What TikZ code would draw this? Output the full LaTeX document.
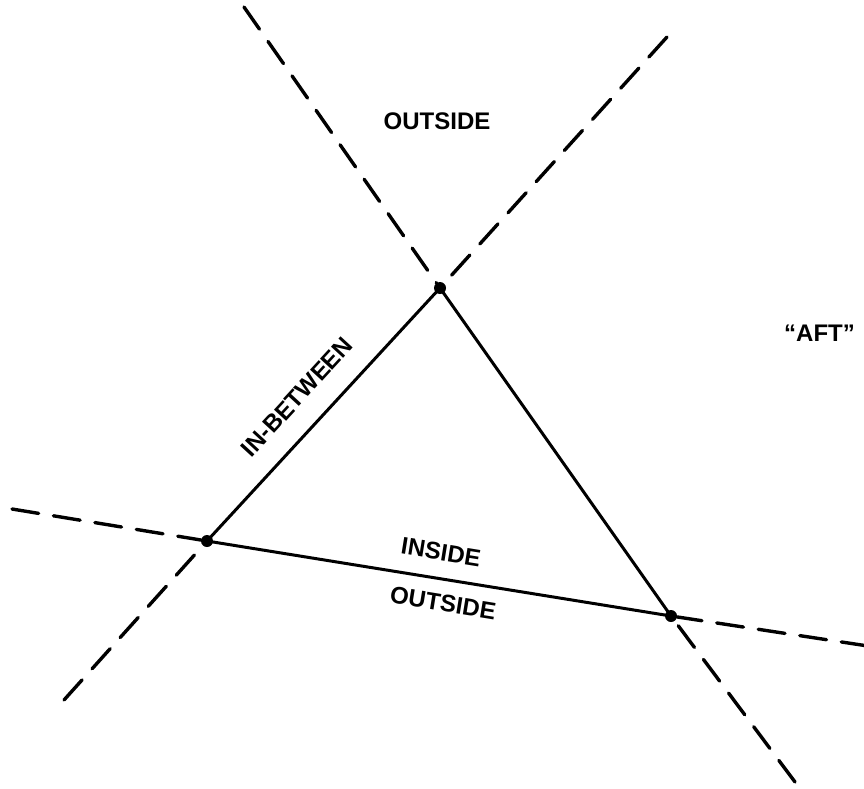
\documentclass[tikz,border=0pt]{standalone}
\usepackage{fontspec}
\setmainfont{Liberation Sans}
\begin{document}
\begin{tikzpicture}[x=1pt,y=-1pt,
  edge/.style={line width=3pt},
  dashedge/.style={line width=3.4pt,line cap=round,dash pattern=on 27pt off 15pt},
  vert/.style={circle,fill=black,inner sep=0pt,minimum size=12pt},
  lbl/.style={font=\fontsize{24}{28}\selectfont\bfseries,inner sep=0pt}]
\useasboundingbox (0,0) rectangle (864,788);
% vertices
\node[vert] (T) at (440,288) {};
\node[vert] (L) at (207,541) {};
\node[vert] (R) at (671,616) {};
% free ends
\coordinate (e1a) at (64,700);
\coordinate (e1b) at (667,37);
\coordinate (e2a) at (244,7);
\coordinate (e2b) at (795,782);
\coordinate (e3a) at (12,509);
\coordinate (e3b) at (868,646);
% solid triangle
\draw[edge] (L.center) -- (T.center) -- (R.center) -- (L.center);
% dashed extensions
\draw[dashedge] (e1a) -- (L);
\draw[dashedge] (e1b) -- (T);
\draw[dashedge] (e2a) -- (T);
\draw[dashedge] (e2b) -- (R);
\draw[dashedge] (e3a) -- (L);
\draw[dashedge] (e3b) -- (R);
% labels
\node[lbl] (out1) at (437,121) {OUTSIDE};
\node[lbl,anchor=west] (aft) at (784,333) {``AFT''};
\node[lbl,rotate=47.4] (inb) at (297,397) {IN-BETWEEN};
\node[lbl,rotate=-9.2] (ins) at (441,552) {INSIDE};
\node[lbl,rotate=-9.2] (out2) at (443,603) {OUTSIDE};
\end{tikzpicture}
\end{document}
